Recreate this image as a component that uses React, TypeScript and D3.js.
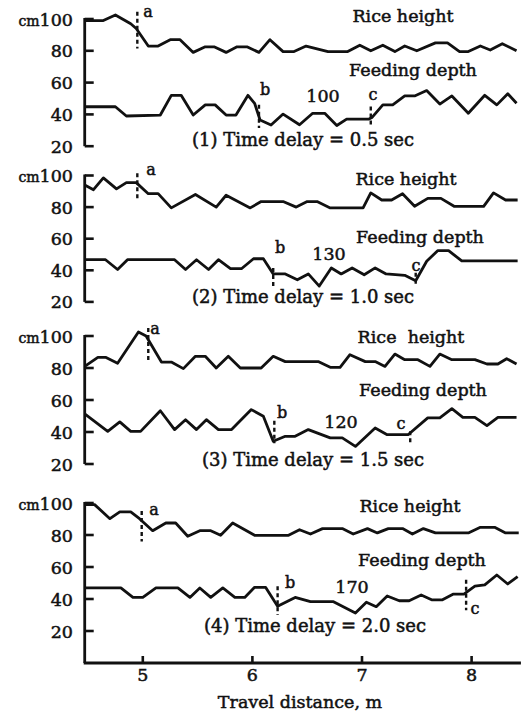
import React from 'react'
import * as d3 from 'd3'

type Pt = [number, number]

const X_TICKS = [5, 6, 7, 8]
const Y_TICKS = [100, 80, 60, 40, 20]
const DELAYS = ['0.5', '1.0', '1.5', '2.0']
const SPEEDS = ['100', '130', '120', '170']

// travel distance (m), height / depth (cm)
const rice1: Pt[] = [
  [4.47, 99], [4.64, 99], [4.75, 102.5], [4.89, 97], [4.94, 94], [5.05, 83], [5.14, 83], [5.25, 87], [5.34, 87],
  [5.46, 79], [5.57, 82.5], [5.65, 82.5], [5.76, 79], [5.86, 82.5], [5.95, 82.5], [6.06, 79], [6.16, 87], [6.28, 79.5],
  [6.38, 79.5], [6.49, 83], [6.69, 79.5], [6.87, 79.5], [6.98, 83.5], [7.08, 80], [7.19, 83.5], [7.3, 79.5], [7.39, 83],
  [7.5, 80], [7.67, 85], [7.78, 85], [7.89, 79.5], [7.97, 79.5], [8.08, 83], [8.17, 80.5], [8.28, 84.5], [8.41, 80],
]
const feed1: Pt[] = [
  [4.47, 44.8], [4.75, 44.8], [4.85, 39], [5.16, 39.6], [5.26, 52], [5.35, 52], [5.46, 39.6], [5.57, 46], [5.66, 46],
  [5.76, 39.6], [5.85, 39.6], [5.96, 52], [6.02, 47], [6.07, 36.5], [6.17, 33.3], [6.28, 40.2], [6.43, 33.5], [6.55, 40.7],
  [6.66, 40.7], [6.77, 33], [6.86, 37], [7.06, 37], [7.09, 38], [7.19, 46], [7.28, 46], [7.39, 51.6], [7.48, 51.6],
  [7.59, 55], [7.71, 46.5], [7.82, 51.6], [7.97, 40.7], [8.12, 52], [8.23, 46], [8.33, 53], [8.41, 47],
]
const marks1 = [
  { id: 'a', x: 4.95, from: 104.5, to: 81.5 },
  { id: 'b', x: 6.06, from: 46, to: 31.5 },
  { id: 'c', x: 7.08, from: 45, to: 32 },
]

const rice2: Pt[] = [
  [4.47, 94], [4.55, 91], [4.64, 98.5], [4.76, 91.5], [4.85, 95.5], [4.94, 95.5], [5.05, 88.5], [5.14, 88.5], [5.26, 79.5],
  [5.48, 88], [5.67, 80], [5.76, 87.5], [5.98, 79.5], [6.08, 83.5], [6.28, 83.5], [6.4, 80], [6.5, 83.5], [6.59, 83.5],
  [6.71, 79.5], [7.01, 79.5], [7.08, 89], [7.18, 84.5], [7.27, 84.5], [7.37, 88.5], [7.48, 80.5], [7.6, 85.5], [7.72, 85.5],
  [7.84, 80.5], [8.11, 80.5], [8.2, 89], [8.31, 84.5], [8.42, 84.5],
]
const feed2: Pt[] = [
  [4.47, 46.7], [4.66, 46.7], [4.77, 40.5], [4.86, 46.7], [5.29, 46.7], [5.39, 40.5], [5.49, 46.7], [5.6, 40.5], [5.69, 46.7],
  [5.8, 41], [5.9, 41], [6.01, 47.3], [6.1, 47.3], [6.19, 37.7], [6.3, 37.7], [6.41, 34], [6.51, 37.7], [6.61, 30],
  [6.72, 41.5], [6.81, 37.7], [6.91, 41.5], [7.02, 37.2], [7.12, 41.5], [7.22, 37.7], [7.39, 36.8], [7.49, 33.4],
  [7.59, 45.7], [7.69, 52.4], [7.79, 52.4], [7.91, 46], [8.42, 46],
]
const marks2 = [
  { id: 'a', x: 4.95, from: 101.5, to: 84 },
  { id: 'b', x: 6.19, from: 41.5, to: 30 },
  { id: 'c', x: 7.49, from: 38.5, to: 30.5 },
]

const rice3: Pt[] = [
  [4.47, 81], [4.59, 86.7], [4.66, 86.7], [4.77, 83], [4.96, 102.5], [5.03, 100], [5.17, 83.7], [5.26, 83.7], [5.37, 79.6],
  [5.48, 87.3], [5.57, 87.3], [5.67, 80], [5.78, 87.3], [5.89, 80], [6.08, 80], [6.19, 87.3], [6.3, 84], [6.6, 84],
  [6.71, 80.4], [6.8, 80.4], [6.89, 88.3], [7.03, 84], [7.12, 84], [7.21, 81], [7.3, 88.7], [7.39, 85.2], [7.51, 85.2],
  [7.62, 81], [7.71, 88.7], [7.82, 85.2], [8.03, 85.2], [8.14, 82.5], [8.24, 82.5], [8.32, 85.8], [8.41, 82.5],
]
const feed3: Pt[] = [
  [4.47, 51.3], [4.68, 40.4], [4.79, 46.3], [4.89, 40.4], [4.98, 40.4], [5.16, 53.3], [5.29, 41.5], [5.39, 47.7],
  [5.49, 41.5], [5.58, 47.7], [5.69, 41.5], [5.81, 41.5], [5.99, 54], [6.1, 49.8], [6.19, 34.2], [6.3, 37.3], [6.39, 37.3],
  [6.51, 41.5], [6.71, 36.3], [6.82, 36.3], [6.94, 31], [7.12, 42.5], [7.23, 38.3], [7.42, 38.3], [7.6, 48.8], [7.71, 48.8],
  [7.82, 54.6], [7.92, 49.2], [8.03, 49.2], [8.14, 44], [8.24, 49.2], [8.41, 49.2],
]
const marks3 = [
  { id: 'a', x: 5.05, from: 105, to: 85 },
  { id: 'b', x: 6.2, from: 47, to: 33 },
  { id: 'c', x: 7.44, from: 40.5, to: 32 },
]

const rice4: Pt[] = [
  [4.47, 99], [4.56, 99], [4.7, 90.2], [4.79, 94.4], [4.89, 94.4], [4.97, 90.2], [5.09, 82.7], [5.21, 87.5], [5.3, 87.5],
  [5.41, 79.2], [5.52, 82.7], [5.62, 82.7], [5.71, 79.8], [5.82, 87.5], [6.02, 79.8], [6.33, 79.8], [6.43, 83.3],
  [6.53, 80.6], [6.64, 84], [6.82, 84], [6.92, 80.6], [7.05, 84], [7.14, 81.3], [7.24, 84], [7.37, 84], [7.46, 80.6],
  [7.56, 84], [7.67, 81.3], [7.97, 81.3], [8.08, 84.8], [8.21, 84.8], [8.31, 81.3], [8.43, 81.3],
]
const feed4: Pt[] = [
  [4.47, 46.9], [4.8, 46.9], [4.91, 41], [5.0, 41], [5.12, 46.9], [5.32, 46.9], [5.43, 41], [5.52, 46.9], [5.62, 41],
  [5.73, 46.9], [5.84, 41], [5.93, 41], [6.02, 47.3], [6.12, 47.3], [6.23, 35.4], [6.39, 41], [6.53, 38.3], [6.74, 38.3],
  [6.94, 31.2], [7.04, 38], [7.13, 35.2], [7.23, 41.9], [7.34, 38.9], [7.43, 38.9], [7.54, 42.5], [7.64, 39.4],
  [7.73, 39.4], [7.83, 43], [7.93, 43], [8.03, 48], [8.12, 48.8], [8.23, 55], [8.33, 49.4], [8.42, 54],
]
const marks4 = [
  { id: 'a', x: 4.99, from: 95, to: 76 },
  { id: 'b', x: 6.23, from: 48, to: 30 },
  { id: 'c', x: 7.95, from: 52, to: 33 },
]

const X_MIN = 4.47
const X_MAX = 8.45

// layout: top = pixel of 100 cm, k = px per cm, text anchors in px
const PANELS = [
  { rice: rice1, feed: feed1, marks: marks1, top: 19, k: 1.59, riceLbl: 'Rice height',
    riceAt: [403, 22], feedAt: [413, 76], speedAt: [323, 102], capAt: [303, 146],
    markAt: [[148, 17], [265, 95], [373, 100]] },
  { rice: rice2, feed: feed2, marks: marks2, top: 175.5, k: 1.58, riceLbl: 'Rice height',
    riceAt: [406, 185], feedAt: [420, 243], speedAt: [329, 260], capAt: [303, 303],
    markAt: [[151, 175], [280, 253], [416, 271]] },
  { rice: rice3, feed: feed3, marks: marks3, top: 336, k: 1.6, riceLbl: 'Rice\u00a0 height',
    riceAt: [411, 343], feedAt: [423, 396], speedAt: [341, 428], capAt: [313, 466],
    markAt: [[155, 334], [282, 418], [401, 429]] },
  { rice: rice4, feed: feed4, marks: marks4, top: 503, k: 1.6, riceLbl: 'Rice height',
    riceAt: [410, 512], feedAt: [422, 566], speedAt: [352, 593], capAt: [315, 632],
    markAt: [[154, 515], [290, 588], [475, 614]] },
]

const FONT = "'DejaVu Serif', serif"
const INK = '#111'

const xScale = d3.scaleLinear().domain([4.5, 8.5]).range([88, 526.4])

const txt = (size: number) => ({
  fontFamily: FONT,
  fontSize: size,
  fill: INK,
  stroke: INK,
  strokeWidth: 0.5,
})

const Panel = ({ p, i, last }: { p: typeof PANELS[number]; i: number; last: boolean }) => {
  const y = d3.scaleLinear().domain([0, 100]).range([p.top + 100 * p.k, p.top])
  const path = d3.line<Pt>().x(d => xScale(d[0])).y(d => y(d[1]))
  const x0 = xScale(X_MIN)
  const yBottom = last ? y(0) : y(20)

  return (
    <g>
      <line x1={x0} x2={x0} y1={y(100) - 1} y2={yBottom} stroke={INK} strokeWidth={2.8} />
      {Y_TICKS.map(t => (
        <g key={t}>
          <line x1={x0} x2={x0 + 9} y1={y(t)} y2={y(t)} stroke={INK} strokeWidth={2.6} />
          <text x={73} y={y(t) + 6.5} textAnchor="end" style={txt(17.5)}>
            {t === 100 ? <tspan fontSize={14}>cm</tspan> : null}
            {t}
          </text>
        </g>
      ))}

      <path d={path(p.rice) ?? ''} fill="none" stroke={INK} strokeWidth={2.8} strokeLinejoin="round" />
      <path d={path(p.feed) ?? ''} fill="none" stroke={INK} strokeWidth={2.8} strokeLinejoin="round" />

      {p.marks.map((m, j) => (
        <g key={m.id}>
          <line x1={xScale(m.x)} x2={xScale(m.x)} y1={y(m.from)} y2={y(m.to)}
            stroke={INK} strokeWidth={2.4} strokeDasharray="4 3" />
          <text x={p.markAt[j][0]} y={p.markAt[j][1]} textAnchor="middle" style={txt(16)}>{m.id}</text>
        </g>
      ))}

      <text x={p.riceAt[0]} y={p.riceAt[1]} textAnchor="middle" style={txt(17.5)}>{p.riceLbl}</text>
      <text x={p.feedAt[0]} y={p.feedAt[1]} textAnchor="middle" style={txt(17.5)}>Feeding depth</text>
      <text x={p.speedAt[0]} y={p.speedAt[1]} textAnchor="middle" style={txt(17.5)}>{SPEEDS[i]}</text>
      <text x={p.capAt[0]} y={p.capAt[1]} textAnchor="middle" style={txt(18)}>
        {`(${i + 1}) Time delay = ${DELAYS[i]} sec`}
      </text>

      {last && (
        <g>
          <line x1={x0 - 1} x2={xScale(X_MAX)} y1={y(0)} y2={y(0)} stroke={INK} strokeWidth={2.8} />
          {X_TICKS.map(t => (
            <g key={t}>
              <line x1={xScale(t)} x2={xScale(t)} y1={y(0)} y2={y(0) - 7} stroke={INK} strokeWidth={2.6} />
              <text x={xScale(t)} y={y(0) + 18} textAnchor="middle" style={txt(17.5)}>{t}</text>
            </g>
          ))}
          <text x={300} y={708} textAnchor="middle" style={txt(17.5)}>Travel distance, m</text>
        </g>
      )}
    </g>
  )
}

export default function App() {
  return (
    <svg width={532} height={716} viewBox="0 0 532 716"
      style={{ position: 'absolute', left: 0, top: 0, background: '#fff' }}>
      <rect width={532} height={716} fill="#fff" />
      {PANELS.map((p, i) => (
        <Panel key={i} p={p} i={i} last={i === PANELS.length - 1} />
      ))}
    </svg>
  )
}
